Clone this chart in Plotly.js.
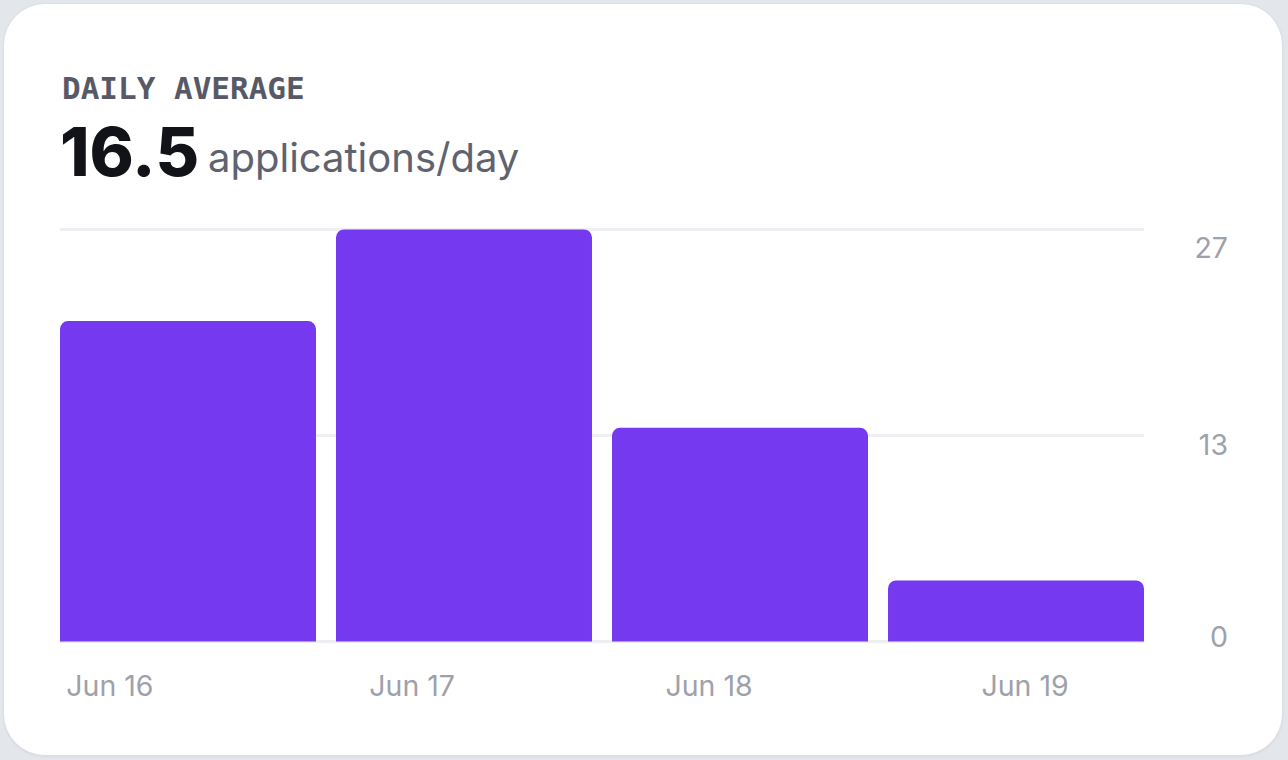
<!DOCTYPE html>
<html>
<head>
<meta charset="utf-8">
<script src="https://cdn.plot.ly/plotly-3.0.1.min.js"></script>
<style>
  html, body { margin: 0; padding: 0; background: #e3e6eb; width: 1288px; height: 760px; overflow: hidden; }
  #card { position: absolute; left: 3px; top: 3px; width: 1278px; height: 751px; background: #ffffff; border-radius: 42px; border: 1px solid #dcdfe5; box-shadow: 0 1px 3px rgba(0,0,0,0.05); }
  #chart { position: absolute; left: 0; top: 0; width: 1288px; height: 760px; }
</style>
</head>
<body>
<div id="card"></div>
<div id="chart"></div>
<script>
// ---- data ----
const dayLabels = ['Jun 16', 'Jun 17', 'Jun 18', 'Jun 19'];
const applications = [21, 27, 14, 4];
const yTickLabels = ['0', '13', '27'];
const headline = 'DAILY AVERAGE';
const unitLabel = 'applications/day';

// ---- derived ----
const avg = applications.reduce((a, b) => a + b, 0) / applications.length;
const yMax = Math.max(...applications);
const xIdx = dayLabels.map((_, i) => i);

// ---- layout geometry (pixels) ----
const W = 1288, H = 760;
const mL = 60, mR = 20, mT = 228, mB = 117;
const plotW = W - mL - mR, plotH = H - mT - mB;
const dom = 1084 / plotW;
const bw = 0.9275;
const xr = [-bw / 2, xIdx.length - 1 + bw / 2];
const yr = [-0.1, yMax + 0.1];
const px = x => (x - mL) / plotW;
const py = y => (H - mB - y) / plotH;

// label placements (layout only)
const xLabelPos = [-0.283, 0.812, 1.888, 3.033];
const yLabelPos = [0.26, 12.88, 25.82];

const trace = {
  type: 'bar',
  x: xIdx,
  y: applications,
  width: bw,
  marker: { color: '#7539f0', cornerradius: 8, line: { width: 0 } },
  hoverinfo: 'skip'
};

const tickFont = { size: 28.5, color: '#9ea1ab', family: 'Inter, sans-serif' };

const layout = {
  width: W, height: H,
  margin: { l: mL, r: mR, t: mT, b: mB, pad: 0 },
  paper_bgcolor: 'rgba(0,0,0,0)',
  plot_bgcolor: 'rgba(0,0,0,0)',
  showlegend: false,
  font: { family: 'Inter, "Noto Sans", sans-serif', color: '#9ea1ab', size: 26 },
  xaxis: {
    domain: [0, dom], range: xr, showgrid: false, zeroline: false,
    showticklabels: false, ticks: '', fixedrange: true
  },
  xaxis2: {
    overlaying: 'x', anchor: 'y', side: 'bottom', range: xr,
    tickmode: 'array', tickvals: xLabelPos, ticktext: dayLabels,
    showgrid: false, zeroline: false, ticks: '', ticklabelstandoff: 23,
    tickfont: tickFont
  },
  yaxis: {
    range: yr, tickmode: 'array', tickvals: [0, yMax / 2, yMax],
    showticklabels: false, showgrid: true, gridcolor: '#eeeff3', gridwidth: 3,
    zeroline: false, ticks: '', fixedrange: true
  },
  yaxis2: {
    overlaying: 'y', anchor: 'free', position: px(1228), side: 'left',
    range: yr, tickmode: 'array', tickvals: yLabelPos, ticktext: yTickLabels,
    showgrid: false, zeroline: false, ticks: '', showline: false,
    tickfont: tickFont
  },
  annotations: [
    { xref: 'paper', yref: 'paper', x: px(60), y: py(88), xanchor: 'left', yanchor: 'middle',
      text: '<b>' + headline + '</b>', showarrow: false,
      font: { family: '"DejaVu Sans Mono", monospace', size: 31, color: '#575a66' } },
    { xref: 'paper', yref: 'paper', x: px(58), y: py(151), xanchor: 'left', yanchor: 'middle',
      text: avg.toFixed(1), showarrow: false,
      font: { family: 'Inter, sans-serif', size: 67, weight: 800, color: '#111318' } },
    { xref: 'paper', yref: 'paper', x: px(206), y: py(158), xanchor: 'left', yanchor: 'middle',
      text: unitLabel, showarrow: false,
      font: { family: 'Inter, sans-serif', size: 40, color: '#5f6370' } }
  ]
};

// invisible trace to activate the secondary label axes
const axisTrace = { type: 'scatter', x: [xr[0]], y: [0], xaxis: 'x2', yaxis: 'y2',
  mode: 'markers', marker: { opacity: 0 }, hoverinfo: 'skip' };

Plotly.newPlot('chart', [trace, axisTrace], layout, { displayModeBar: false, staticPlot: true });
</script>
</body>
</html>
